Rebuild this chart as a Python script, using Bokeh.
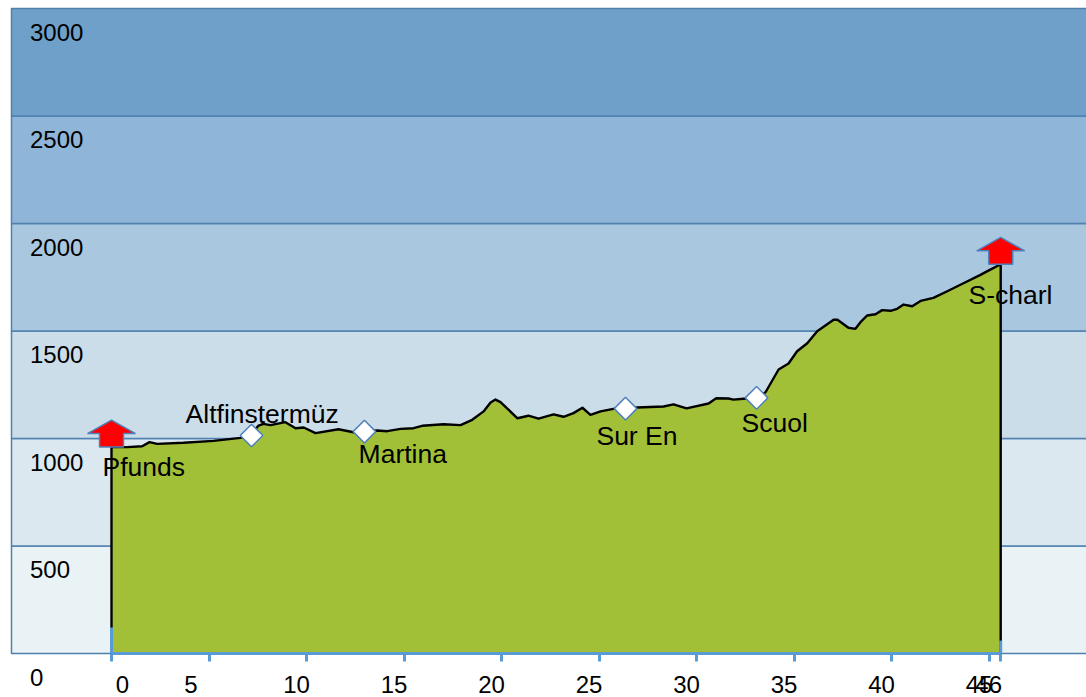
from bokeh.core.properties import value
from bokeh.embed import file_html
from bokeh.models import ColumnDataSource, FixedTicker, LabelSet, LinearAxis, Range1d
from bokeh.plotting import figure
from bokeh.resources import INLINE
import math

km = [0, 0.8, 1.57, 1.95, 2.34, 3.69, 5.23, 6.62, 7.13, 7.54, 7.79, 8.15, 8.92, 9.44, 9.86, 10.46, 11.64,
      12.41, 12.92, 13.63, 14.14, 14.82, 15.49, 15.93, 17.03, 17.9, 18.5, 19.08, 19.44, 19.69, 19.95, 20.82,
      21.38, 21.9, 22.67, 23.18, 23.69, 24.15, 24.56, 25.08, 25.74, 26.36, 26.96, 28.31, 28.82, 29.49, 30.62,
      31.01, 31.64, 31.9, 32.41, 33.08, 33.54, 34.21, 34.72, 35.16, 35.68, 36.19, 37.03, 37.23, 37.79, 38.15,
      38.41, 38.75, 39.18, 39.52, 39.95, 40.29, 40.62, 41.06, 41.49, 42.15, 42.86, 43.69, 44.56, 44.97, 45.55, 45.6]
elevation = [960, 960, 964, 983, 975, 980, 989, 1003, 1014, 1060, 1068, 1062, 1076, 1048, 1051, 1025, 1043,
             1029, 1034, 1037, 1034, 1045, 1048, 1059, 1066, 1062, 1087, 1126, 1167, 1181, 1169, 1094,
             1106, 1092, 1112, 1101, 1118, 1143, 1110, 1126, 1138, 1144, 1144, 1149, 1159, 1140, 1163,
             1187, 1186, 1181, 1185, 1189, 1215, 1321, 1349, 1406, 1443, 1499, 1552, 1552, 1515, 1510,
             1541, 1572, 1578, 1597, 1594, 1603, 1623, 1615, 1640, 1654, 1685, 1722, 1761, 1781, 1808, 1810]

band_low = [0, 500, 1000, 1500, 2000, 2500]
band_high = [500, 1000, 1500, 2000, 2500, 3000]
band_colors = ["#e9f2f5", "#dbe8f0", "#cbdde9", "#a9c8df", "#8fb5d8", "#6fa0c9"]

y_ticks = [0, 500, 1000, 1500, 2000, 2500, 3000]
x_ticks = [0, 5, 10, 15, 20, 25, 30, 35, 40, 45, 45.6]
x_tick_labels = ["0", "5", "10", "15", "20", "25", "30", "35", "40", "45", "46"]
x_label_shift = [11, -18, -10, -10, -10, -10, -10, -10, -10, -10, -12]

place_names = ["Pfunds", "Altfinstermüz", "Martina", "Sur En", "Scuol", "S-charl"]
place_km = [-0.46, 3.8, 12.67, 24.87, 32.31, 43.95]
place_ele = [867, 1114, 928, 1011, 1072, 1667]

via_km = [7.18, 12.97, 26.36, 33.08]
via_ele = [1014, 1032, 1139, 1189]

end_km = [0, 45.6]
end_ele = [960, 1810]
end_foot = [121, 60]

PX_X = 19.5   # pixels per km
PX_Y = 0.215  # pixels per metre
X0 = -111 / PX_X
X1 = 975 / PX_X
LEFT = -100 / PX_X

FONT = value("Liberation Sans")
p = figure(width=1086, height=697, output_backend="svg", toolbar_location=None,
           x_range=Range1d(X0, X1), y_range=Range1d(-44 / PX_Y, 3000 + 8 / PX_Y),
           x_axis_location=None, y_axis_location=None,
           min_border_left=0, min_border_right=0, min_border_top=0, min_border_bottom=0,
           outline_line_color=None, background_fill_color=None, border_fill_color="white")
p.grid.visible = False

p.quad(left=[LEFT] * 6, right=[X1 + 1] * 6, bottom=band_low, top=band_high, fill_color=band_colors,
       line_color="#4f81ae", line_width=1.5)

p.varea(x=km, y1=[0] * len(km), y2=elevation, fill_color="#a2c037")
p.line(x=[0] + km + [45.6], y=[0] + elevation + [0], line_color="black", line_width=2.4, line_join="round")
p.segment(x0=end_km, x1=end_km, y0=[0, 0], y1=end_foot, line_color="#5b9bd5", line_width=3)

# up-arrow shape in pixels relative to the foot of the arrow
shape_x = [0, 24, 12, 12, -12, -12, -24]
shape_y = [27, 13.5, 13.5, 0, 0, 13.5, 13.5]
p.patches(xs=[[k + s / PX_X for s in shape_x] for k in end_km],
          ys=[[e + s / PX_Y for s in shape_y] for e in end_ele],
          fill_color="#ff0000", line_color="#4f81bd", line_width=1.5)

p.scatter(x=via_km, y=via_ele, marker="square", angle=math.pi / 4, size=16,
          fill_color="white", line_color="#4f81bd", line_width=1.5)

ax = LinearAxis(fixed_location=0, ticker=FixedTicker(ticks=x_ticks), bounds=(0, 45.6))
ax.axis_line_color = "#5b9bd5"
ax.axis_line_width = 3
ax.major_tick_line_color = "#5b9bd5"
ax.major_tick_line_width = 3
ax.major_tick_in = 0
ax.major_tick_out = 8
ax.minor_tick_line_color = None
ax.major_label_overrides = {t: "" for t in x_ticks}
p.add_layout(ax, "below")

common = dict(text_font=FONT, text_color="black", text_baseline="middle")

p.add_layout(LabelSet(source=ColumnDataSource(dict(x=place_km, y=place_ele, t=place_names)),
                      x="x", y="y", text="t", text_align="left", text_font_size="26.5px", **common))
p.add_layout(LabelSet(source=ColumnDataSource(dict(x=[-4.18] * len(y_ticks), y=y_ticks,
                                                   t=[str(v) for v in y_ticks])),
                      x="x", y="y", text="t", text_align="left", y_offset=-23.5, text_font_size="24px", **common))
p.add_layout(LabelSet(source=ColumnDataSource(dict(x=x_ticks, y=[0] * len(x_ticks), t=x_tick_labels,
                                                   dx=x_label_shift)),
                      x="x", y="y", text="t", text_align="center", x_offset="dx", y_offset=-30.5,
                      text_font_size="24px", **common))

open("out.html", "w").write(file_html(p, INLINE))
